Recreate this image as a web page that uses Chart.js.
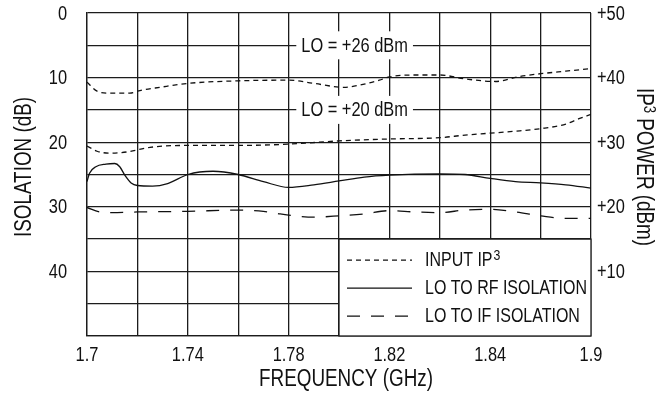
<!DOCTYPE html>
<html lang="en">
<head>
  <meta charset="UTF-8">
  <title>Isolation and IP3 vs Frequency</title>
  <style>
    * { box-sizing: border-box; }
    html, body { margin: 0; padding: 0; background: #fff; }
    .chart-container { position: relative; width: 661px; height: 393px; }
  </style>
  <script src="https://cdn.jsdelivr.net/npm/chart.js@4.4.1/dist/chart.umd.min.js"></script>
</head>
<body>
  <div class="chart-container">
    <canvas id="isoChart"></canvas>
  </div>

  <script>
    // --- Data ---
    // Input IP3, LO = +26 dBm (right axis, dBm)
    const ip3HighFreq = [1.700, 1.704, 1.709, 1.717, 1.721, 1.729, 1.740, 1.760, 1.780, 1.790, 1.802,
                         1.810, 1.816, 1.820, 1.830, 1.840, 1.850, 1.862, 1.872, 1.880, 1.890, 1.900];
    const ip3HighDbm  = [39.3, 37.9, 37.6, 37.6, 38.0, 38.5, 39.1, 39.5, 39.6, 39.1, 38.5,
                         39.0, 39.6, 40.1, 40.4, 40.4, 39.8, 39.4, 40.2, 40.6, 41.0, 41.4];

    // Input IP3, LO = +20 dBm (right axis, dBm)
    const ip3LowFreq = [1.700, 1.704, 1.709, 1.716, 1.725, 1.740, 1.760, 1.780, 1.800, 1.820,
                        1.840, 1.850, 1.860, 1.870, 1.880, 1.890, 1.895, 1.900];
    const ip3LowDbm  = [29.4, 28.6, 28.3, 28.5, 29.2, 29.5, 29.5, 29.7, 30.2, 30.5,
                        30.7, 31.1, 31.4, 31.7, 32.1, 32.8, 33.6, 34.3];

    // LO to RF isolation (left axis, dB)
    const rfIsoFreq = [1.700, 1.701, 1.7035, 1.7075, 1.711, 1.713, 1.715, 1.7175, 1.720, 1.726, 1.732,
                       1.740, 1.750, 1.760, 1.770, 1.780, 1.790, 1.800, 1.810, 1.820, 1.840,
                       1.850, 1.860, 1.870, 1.880, 1.890, 1.900];
    const rfIsoDb   = [26.1, 24.8, 23.8, 23.4, 23.3, 23.8, 25.1, 26.3, 26.7, 26.8, 26.4,
                       25.0, 24.5, 25.0, 26.1, 27.0, 26.6, 26.0, 25.4, 25.1, 24.9,
                       25.0, 25.6, 26.1, 26.3, 26.6, 27.1];

    // LO to IF isolation (left axis, dB)
    const ifIsoFreq = [1.700, 1.705, 1.710, 1.720, 1.740, 1.760, 1.770, 1.775, 1.780, 1.790, 1.800,
                       1.810, 1.820, 1.830, 1.840, 1.850, 1.860, 1.870, 1.880, 1.890, 1.900];
    const ifIsoDb   = [30.1, 30.8, 30.9, 30.8, 30.7, 30.5, 30.7, 31.0, 31.3, 31.6, 31.4,
                       31.1, 30.6, 30.8, 30.9, 30.5, 30.4, 30.8, 31.4, 31.8, 31.8];

    // Tick labels (as printed on the original)
    const xTickValues     = [1.70, 1.74, 1.78, 1.82, 1.86, 1.90];
    const xTickLabels     = ['1.7', '1.74', '1.78', '1.82', '1.84', '1.9'];
    const leftTickValues  = [0, 10, 20, 30, 40];
    const leftTickLabels  = ['0', '10', '20', '30', '40'];
    const rightTickValues = [50, 40, 30, 20, 10];
    const rightTickLabels = ['+50', '+40', '+30', '+20', '+10'];

    // Annotations
    const loLabels  = ['LO = +26 dBm', 'LO = +20 dBm'];
    const loLabelDb = [5, 15];
    const loLabelFreq = 1.8062;
    const legendNames = ['INPUT IP', 'LO TO RF ISOLATION', 'LO TO IF ISOLATION'];

    const FONT = "'Liberation Sans', Arial, sans-serif";
    const SQUEEZE = 0.82;   // narrow look of the original lettering
    const INK = '#111';
    const GRID = '#1c1c1c';
    const DASHES = [[5, 4], [], [13, 11]];

    const pts = (xs, ys) => xs.map((x, i) => ({ x: x, y: ys[i] }));

    // draw condensed text, returns drawn width
    function narrowText(ctx, text, x, y, size, align) {
      ctx.save();
      ctx.font = size + 'px ' + FONT;
      ctx.textAlign = align || 'left';
      ctx.textBaseline = 'middle';
      ctx.translate(x, y);
      ctx.scale(SQUEEZE, 1);
      ctx.fillText(text, 0, 0);
      const w = ctx.measureText(text).width * SQUEEZE;
      ctx.restore();
      return w;
    }
    function narrowWidth(ctx, text, size) {
      ctx.save();
      ctx.font = size + 'px ' + FONT;
      const w = ctx.measureText(text).width * SQUEEZE;
      ctx.restore();
      return w;
    }

    // --- Labels, legend box, tick labels and axis titles drawn on the canvas ---
    const overlay = {
      id: 'overlay',
      afterDatasetsDraw(chart) {
        const { ctx, chartArea: a, scales } = chart;
        const xs = scales.x, yl = scales.y;
        ctx.save();
        ctx.fillStyle = INK;

        // LO labels sitting on gridlines
        loLabels.forEach((t, i) => {
          const cx = xs.getPixelForValue(loLabelFreq);
          const cy = yl.getPixelForValue(loLabelDb[i]);
          const w = narrowWidth(ctx, t, 20);
          ctx.fillStyle = '#fff';
          ctx.fillRect(cx - w / 2 - 5, cy - 14, w + 10, 28);
          ctx.fillStyle = INK;
          narrowText(ctx, t, cx, cy + 1, 20, 'center');
        });

        // legend box in lower right cell block
        const L = xs.getPixelForValue(1.80), T = yl.getPixelForValue(35);
        ctx.fillStyle = '#fff';
        ctx.fillRect(L, T, a.right - L, a.bottom - T);
        ctx.strokeStyle = GRID;
        ctx.lineWidth = 1.3;
        ctx.strokeRect(L, T, a.right - L, a.bottom - T);

        legendNames.forEach((name, i) => {
          const y = T + 21 + i * 28;
          ctx.beginPath();
          ctx.setLineDash(DASHES[i]);
          ctx.strokeStyle = INK;
          ctx.lineWidth = 1.3;
          ctx.moveTo(L + 8, y);
          ctx.lineTo(L + 73, y);
          ctx.stroke();
          ctx.setLineDash([]);
          ctx.fillStyle = INK;
          const w = narrowText(ctx, name, L + 86, y + 1, 19.5, 'left');
          if (i === 0) narrowText(ctx, '3', L + 86 + w + 1, y - 4, 15, 'left');
        });
        ctx.restore();
      },
      afterDraw(chart) {
        const { ctx, chartArea: a, scales } = chart;
        ctx.save();
        ctx.fillStyle = INK;

        // tick labels
        xTickValues.forEach((v, i) => narrowText(ctx, xTickLabels[i], scales.x.getPixelForValue(v), 355, 20, 'center'));
        leftTickValues.forEach((v, i) => narrowText(ctx, leftTickLabels[i], a.left - 20, scales.y.getPixelForValue(v) + 1, 20, 'right'));
        rightTickValues.forEach((v, i) => narrowText(ctx, rightTickLabels[i], a.right + 6, scales.y2.getPixelForValue(v) + 1, 20, 'left'));

        // left title
        ctx.save();
        ctx.translate(25, 167);
        ctx.rotate(-Math.PI / 2);
        narrowText(ctx, 'ISOLATION (dB)', 0, 0, 23, 'center');
        ctx.restore();

        // right title, with superscript 3
        ctx.save();
        ctx.translate(643, 167);
        ctx.rotate(Math.PI / 2);
        const p1 = 'IP', p3 = ' POWER (dBm)';
        const w1 = narrowWidth(ctx, p1, 23), w2 = narrowWidth(ctx, '3', 16), w3 = narrowWidth(ctx, p3, 23);
        const start = -(w1 + w2 + w3) / 2;
        narrowText(ctx, p1, start, 0, 23, 'left');
        narrowText(ctx, '3', start + w1, -5, 16, 'left');
        narrowText(ctx, p3, start + w1 + w2, 0, 23, 'left');
        ctx.restore();

        // bottom title
        narrowText(ctx, 'FREQUENCY (GHz)', 346, 380, 23, 'center');
        ctx.restore();
      }
    };

    const lineStyle = (dash) => ({
      borderColor: INK,
      borderWidth: 1.3,
      borderDash: dash,
      pointRadius: 0,
      fill: false,
      cubicInterpolationMode: 'monotone'
    });

    new Chart(document.getElementById('isoChart'), {
      type: 'line',
      data: {
        datasets: [
          Object.assign({ label: 'Input IP3 (LO = +26 dBm)', data: pts(ip3HighFreq, ip3HighDbm), yAxisID: 'y2' }, lineStyle(DASHES[0])),
          Object.assign({ label: 'Input IP3 (LO = +20 dBm)', data: pts(ip3LowFreq, ip3LowDbm), yAxisID: 'y2' }, lineStyle(DASHES[0])),
          Object.assign({ label: 'LO to RF isolation', data: pts(rfIsoFreq, rfIsoDb), yAxisID: 'y' }, lineStyle(DASHES[1])),
          Object.assign({ label: 'LO to IF isolation', data: pts(ifIsoFreq, ifIsoDb), yAxisID: 'y' }, lineStyle(DASHES[2]))
        ]
      },
      options: {
        responsive: true,
        maintainAspectRatio: false,
        animation: false,
        layout: { padding: { top: 13, left: 0, right: 0, bottom: 0 } },
        plugins: {
          legend: { display: false },
          tooltip: { enabled: false }
        },
        scales: {
          x: {
            type: 'linear',
            min: 1.7, max: 1.9,
            afterBuildTicks: s => { s.ticks = Array.from({ length: 11 }, (_, i) => ({ value: 1.7 + i * 0.02 })); },
            afterFit: s => { s.height = 57; },
            grid: { color: GRID, lineWidth: 1.3, drawTicks: false },
            border: { color: GRID, width: 1.3 },
            ticks: { display: false }
          },
          y: {
            position: 'left',
            reverse: true,
            min: 0, max: 50,
            afterBuildTicks: s => { s.ticks = Array.from({ length: 11 }, (_, i) => ({ value: i * 5 })); },
            afterFit: s => { s.width = 87; },
            grid: { color: GRID, lineWidth: 1.3, drawTicks: false },
            border: { color: GRID, width: 1.3 },
            ticks: { display: false }
          },
          y2: {
            position: 'right',
            min: 0, max: 50,
            afterFit: s => { s.width = 70; },
            grid: { display: false, drawTicks: false },
            border: { display: false },
            ticks: { display: false }
          }
        }
      },
      plugins: [overlay]
    });
  </script>
</body>
</html>
